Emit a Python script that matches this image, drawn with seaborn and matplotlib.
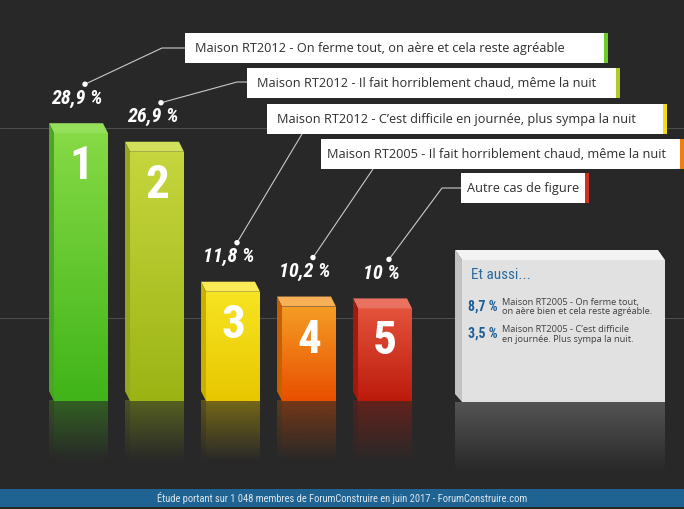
import numpy as np
import pandas as pd
import matplotlib
matplotlib.use("Agg")
import matplotlib.pyplot as plt
import seaborn as sns
from matplotlib.colors import to_rgb, LinearSegmentedColormap
from matplotlib.patches import Polygon, Rectangle, Circle
from matplotlib import font_manager

# ---------------- data ----------------
ranks = ["1", "2", "3", "4", "5"]
values = [28.9, 26.9, 11.8, 10.2, 10.0]
answers = [
    "Maison RT2012 - On ferme tout, on aère et cela reste agréable",
    "Maison RT2012 - Il fait horriblement chaud, même la nuit",
    "Maison RT2012 - C’est difficile en journée, plus sympa la nuit",
    "Maison RT2005 - Il fait horriblement chaud, même la nuit",
    "Autre cas de figure",
]
other_values = [8.7, 3.5]
other_answers = [
    ["Maison RT2005 - On ferme tout,", "on aère bien et cela reste agréable."],
    ["Maison RT2005 - C’est difficile", "en journée. Plus sympa la nuit."],
]
other_title = "Et aussi..."
footer_text = "Étude portant sur 1 048 membres de ForumConstruire en juin 2017 - ForumConstruire.com"

# ---------------- styles ----------------
BG = "#282828"
front_top = ["#86da45", "#c6d63e", "#f7e422", "#f59d25", "#e3533c"]
front_bottom = ["#40b41a", "#9bb414", "#e8c700", "#e84f00", "#bc1b0b"]
top_colors = ["#95e05a", "#d2df5a", "#faea55", "#f7b055", "#ea7260"]
side_colors = ["#4ea524", "#97a61c", "#c9b000", "#c66000", "#a3190b"]
stripe_colors = ["#6ccc2a", "#b5c82a", "#f0dc10", "#f07e10", "#d03020"]

boxes = [(185, 33, 608, 63), (247, 68, 620, 98), (267, 104, 667, 134),
         (321, 139, 684, 169), (461, 173, 589, 203)]
pads = [10, 10, 10, 6, 6]
elbows = [(162, 48), (237, 82), (302, 134), (373, 169), (442, 188)]
anchors = [(185, 48), (247, 82), (302, 134), (373, 169), (461, 188)]

sns.set_theme(style="white")
names = {f.name for f in font_manager.fontManager.ttflist}
cands = ["Liberation Sans Narrow", "DejaVu Sans Condensed", "Roboto Condensed",
         "Open Sans Condensed", "Noto Sans Condensed", "Noto Sans Display"]
NARROW = next((c for c in cands if c in names), "DejaVu Sans")
BODY = "Open Sans" if "Open Sans" in names else "DejaVu Sans"
plt.rcParams["font.family"] = [BODY, "DejaVu Sans"]
NK = dict(family=[NARROW, "DejaVu Sans"], fontstretch="condensed")

W, H = 684, 509
fig = plt.figure(figsize=(W / 100, H / 100), dpi=100, facecolor=BG)

bg = fig.add_axes([0, 0, 1, 1], zorder=0)
bg.set_xlim(0, W); bg.set_ylim(H, 0); bg.axis("off")
bg.add_patch(Rectangle((0, 0), W, H, color=BG, zorder=0))
for yl in (128, 318):
    bg.plot([0, W], [yl, yl], color="#4c4c4c", lw=0.8, zorder=1)

ax = fig.add_axes([43 / W, (H - 466) / H, 380 / W, 343 / H], zorder=1)
ax.patch.set_alpha(0)
df = pd.DataFrame({"rank": ranks, "value": values})
sns.barplot(data=df, x="rank", y="value", hue="rank", palette=front_bottom,
            width=0.71, saturation=1, legend=False, ax=ax, linewidth=0)
ax.set_xlim(-0.5, 4.5)
ax.set_ylim(-7, 30)
ax.axis("off")

px_x = 380 / 5.0
px_y = 343 / 37.0
dx = 5 / px_x
dy = 10 / px_y

fg = fig.add_axes([0, 0, 1, 1], zorder=2)
fg.set_xlim(0, W); fg.set_ylim(H, 0); fg.axis("off")
fg.patch.set_alpha(0)

grad = np.linspace(0, 1, 256).reshape(-1, 1)
bars = sorted([p for p in ax.patches if isinstance(p, Rectangle)], key=lambda p: p.get_x())
for i, p in enumerate(bars):
    x0 = p.get_x(); w = p.get_width(); h = p.get_height(); x1 = x0 + w
    xc = x0 + w / 2
    cmap = LinearSegmentedColormap.from_list("b%d" % i, [front_top[i], front_bottom[i]])
    im = ax.imshow(grad, cmap=cmap, extent=(x0, x1, 0, h), aspect="auto", zorder=3)
    im.set_clip_path(p)
    ax.add_patch(Polygon([(x0, h), (x1, h), (x1 - dx, h + dy), (x0 - dx, h + dy)],
                         closed=True, color=top_colors[i], lw=0, zorder=4))
    ax.add_patch(Polygon([(x0, 0), (x0, h), (x0 - dx, h + dy), (x0 - dx, dy)],
                         closed=True, color=side_colors[i], lw=0, zorder=4))
    rgba = np.zeros((64, 1, 4))
    rgba[..., :3] = to_rgb(front_bottom[i])
    rgba[:, 0, 3] = np.linspace(0.40, 0.0, 64)
    ax.imshow(rgba, extent=(x0, x1, -6.6, 0), aspect="auto", zorder=2)
    rgba2 = rgba.copy(); rgba2[..., :3] = to_rgb(side_colors[i]); rgba2[:, 0, 3] *= 0.8
    ax.imshow(rgba2, extent=(x0 - dx, x0, -6.6, 0), aspect="auto", zorder=2)
    ax.annotate(ranks[i], xy=(xc, h), xytext=(0, -33), textcoords="offset pixels",
                ha="center", va="center", color="white", fontsize=34,
                fontweight="bold", zorder=6, **NK)
    lab = ("%g" % values[i]).replace(".", ",") + " %"
    ax.annotate(lab, xy=(xc, h), xytext=(-4, 35), textcoords="offset pixels",
                ha="center", va="center", color="white", fontsize=14.5,
                fontweight="bold", fontstyle="italic", zorder=6,
                annotation_clip=False, **NK)
    disp = ax.transData.transform((xc, h))
    lx, ly = disp[0] - 4, H - disp[1] - 35
    dot = (lx + 8, ly - 14)
    ex, ey = elbows[i]; axx, ayy = anchors[i]
    fg.plot([dot[0], ex, axx], [dot[1], ey, ayy], color="#c9c9c9", lw=0.8, zorder=3)
    fg.add_patch(Circle(dot, 2.0, color="white", zorder=4))
    bx0, by0, bx1, by1 = boxes[i]
    fg.add_patch(Rectangle((bx0, by0), bx1 - bx0, by1 - by0, color="white", lw=0, zorder=5))
    fg.add_patch(Rectangle((bx1 - 4, by0), 4, by1 - by0, color=stripe_colors[i], lw=0, zorder=6))
    fg.text(bx0 + pads[i], (by0 + by1) / 2 + 0.5, answers[i], ha="left", va="center",
            fontsize=9.2, color="#2f2f2f", family=BODY, zorder=7)

# "Et aussi" panel
fg.add_patch(Polygon([(455, 250), (658, 250), (665, 260), (462, 260)], closed=True,
                     color="#f3f3f3", lw=0, zorder=5))
fg.add_patch(Polygon([(455, 250), (462, 260), (462, 402), (455, 394)], closed=True,
                     color="#c2c2c2", lw=0, zorder=5))
fg.add_patch(Rectangle((462, 260), 203, 142, color="#e1e1e1", lw=0, zorder=5))
refl = np.zeros((64, 1, 4)); refl[..., :3] = to_rgb("#8a8a8a")
refl[:, 0, 3] = np.linspace(0.45, 0.0, 64)
fg.imshow(refl, extent=(455, 665, 472, 402), aspect="auto", zorder=4)
fg.set_xlim(0, W); fg.set_ylim(H, 0)

fg.text(471, 275, other_title, ha="left", va="center", fontsize=11,
        color="#2b6a9e", zorder=7, **NK)
item_y = [307, 334]
for k in range(len(other_values)):
    lab = ("%g" % other_values[k]).replace(".", ",") + " %"
    fg.text(468, item_y[k], lab, ha="left", va="center", fontsize=10,
            fontweight="bold", color="#1e5e96", zorder=7, **NK)
    fg.text(502, item_y[k] - 4.5, other_answers[k][0], ha="left", va="center",
            fontsize=6.7, color="#404040", family=BODY, zorder=7)
    fg.text(502, item_y[k] + 5, other_answers[k][1], ha="left", va="center",
            fontsize=6.7, color="#404040", family=BODY, zorder=7)

fg.add_patch(Rectangle((0, 489), W, 18, color="#1f6392", lw=0, zorder=5))
fg.text(W / 2, 498, footer_text, ha="center", va="center", fontsize=7.6,
        color="#dce6ef", zorder=7, **NK)

fig.savefig("out.png", dpi=100, facecolor=BG)
